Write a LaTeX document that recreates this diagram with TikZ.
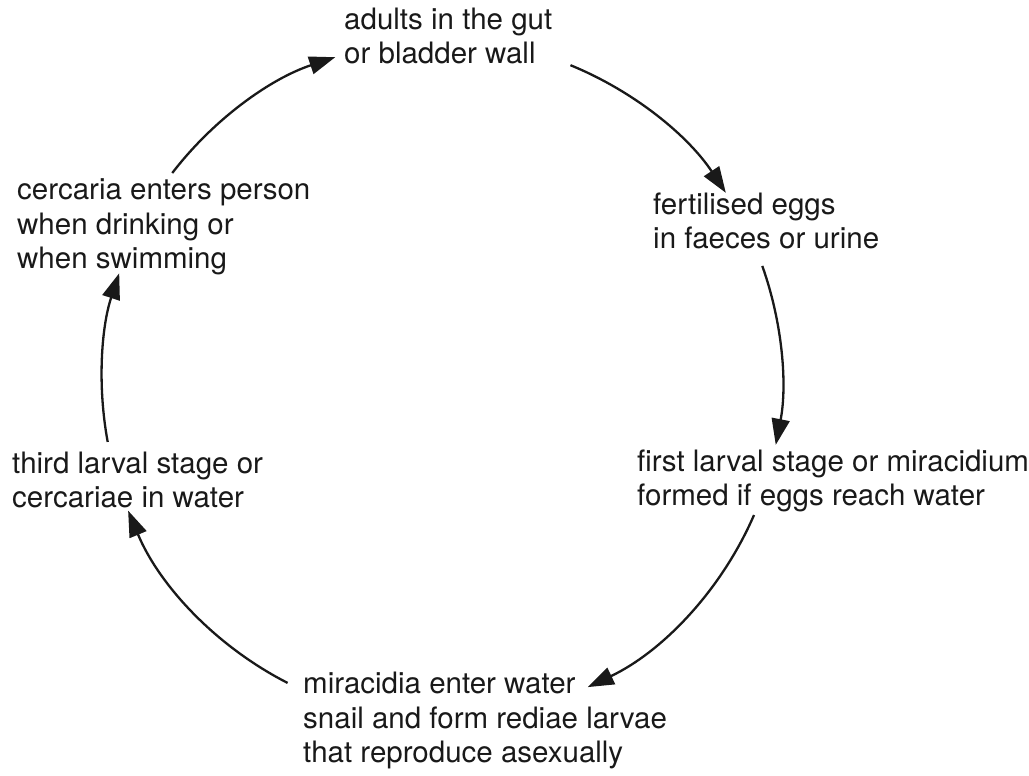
\documentclass[tikz,border=0pt]{standalone}
\usepackage{fontspec}
\setmainfont{TeX Gyre Heros}
\usetikzlibrary{arrows.meta,calc}
\begin{document}
\begin{tikzpicture}[x=1pt,y=1pt,
  lbl/.style={anchor=base west,inner sep=0pt,align=left,text=black!90,
    font=\fontsize{29.5}{34.5}\selectfont},
  cyc/.style={line width=2.3pt,black!90,-{Triangle[length=26pt,width=18pt]}}]
\useasboundingbox (0,0) rectangle (1029,776);
\coordinate (O) at (442,396);
% base west = baseline of the last line
\node[lbl] (adults) at (344,712) {adults in the gut\\or bladder wall};
\node[lbl] (eggs) at (653,527) {fertilised eggs\\in faeces or urine};
\node[lbl] (first) at (637,270) {first larval stage or miracidium\\formed if eggs reach water};
\node[lbl] (mira) at (303,13) {miracidia enter water\\snail and form rediae larvae\\that reproduce asexually};
\node[lbl] (third) at (12,268) {third larval stage or\\cercariae in water};
\node[lbl] (cerc) at (17,507) {cercaria enters person\\when drinking or\\when swimming};
\coordinate (s1) at ($(O)+(67.8:340)$);
\coordinate (s2) at ($(O)+(19.6:340)$);
\coordinate (s3) at ($(O)+(-23.4:340)$);
\coordinate (s4) at ($(O)+(243:340)$);
\coordinate (s5) at ($(O)+(190.5:340)$);
\coordinate (s6) at ($(O)+(142.5:340)$);
\draw[cyc] (s1) arc[start angle=67.8,end angle=33.4,radius=340];
\draw[cyc] (s2) arc[start angle=19.6,end angle=-11,radius=340];
\draw[cyc] (s3) arc[start angle=-23.4,end angle=-64.6,radius=340];
\draw[cyc] (s4) arc[start angle=243,end angle=202.6,radius=340];
\draw[cyc] (s5) arc[start angle=190.5,end angle=161.7,radius=340];
\draw[cyc] (s6) arc[start angle=142.5,end angle=108.3,radius=340];
\end{tikzpicture}
\end{document}
